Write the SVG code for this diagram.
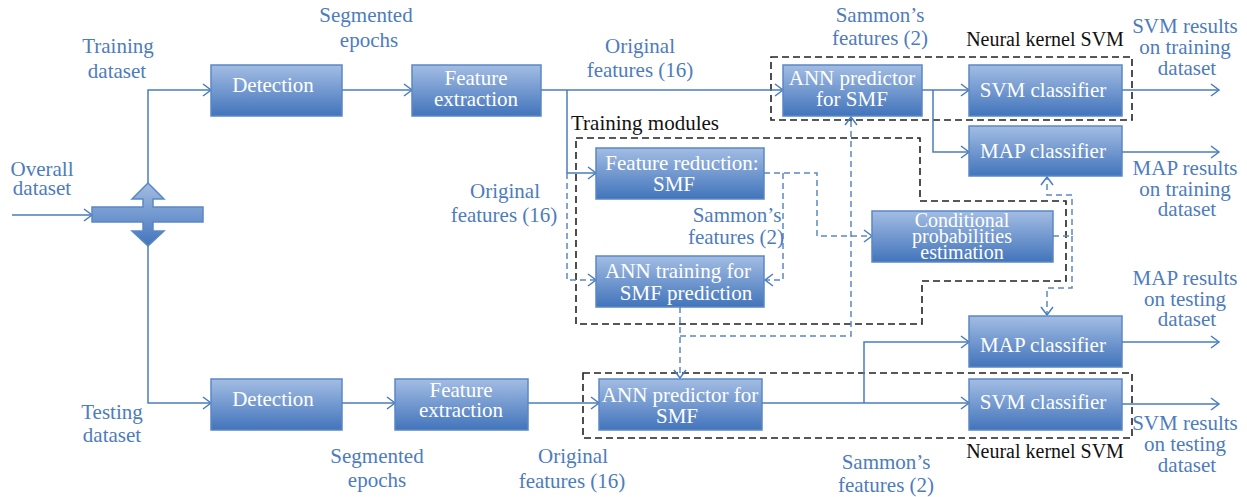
<svg xmlns="http://www.w3.org/2000/svg" width="1247" height="497" viewBox="0 0 1247 497">
  <defs>
    <linearGradient id="boxFill" x1="0" y1="0" x2="0" y2="1">
      <stop offset="0" stop-color="#a3bde3"/>
      <stop offset="1" stop-color="#4274bb"/>
    </linearGradient>
    <marker id="arrow" viewBox="-1 -7 11 14" refX="8" refY="0" markerWidth="11" markerHeight="14" markerUnits="userSpaceOnUse" orient="auto">
      <path d="M0,-6 L8,0 L0,6" fill="none" stroke="#4a7dbf" stroke-width="1.5"/>
    </marker>
    <style>
      text { font-family: 'Liberation Serif', Tinos, 'DejaVu Serif', serif; }
      .box { fill: url(#boxFill); stroke: #5a88c5; stroke-width: 1.5; }
      .nt { font-size: 21px; fill: #ffffff; text-anchor: middle; }
      .lbl { font-size: 21px; fill: #4d7cbc; text-anchor: middle; }
      .blk { font-size: 20px; fill: #111111; text-anchor: middle; }
      .wire { fill: none; stroke: #4a7dbf; stroke-width: 1.5; marker-end: url(#arrow); }
      .dwire { fill: none; stroke: #5a88c5; stroke-width: 1.5; stroke-dasharray: 6 4; marker-end: url(#arrow); }
      .group { fill: none; stroke: #222222; stroke-width: 1.6; stroke-dasharray: 7 4; }
    </style>
  </defs>

  <rect width="1247" height="497" fill="#ffffff"/>

  <!-- module boundaries -->
  <g id="boundaries">
    <rect class="group" x="771" y="57" width="361" height="63"/>
    <polygon class="group" points="576,138 920,138 920,201 1066,201 1066,281 922,281 922,324 576,324"/>
    <rect class="group" x="583" y="373" width="549" height="65"/>
    <text class="blk" x="1045" y="46">Neural kernel SVM</text>
    <text class="blk" x="645" y="130" style="font-size:21px">Training modules</text>
    <text class="blk" x="1045" y="458">Neural kernel SVM</text>
  </g>

  <!-- connectors -->
  <g id="connectors">
    <path class="wire" d="M12,215 H92"/>
    <path class="wire" d="M148,183 V90 H211"/>
    <path class="wire" d="M148,246 V403 H211"/>
    <path class="wire" d="M342,90 H412"/>
    <path class="wire" d="M541,90 H783"/>
    <path class="wire" d="M567,90 V173 H596"/>
    <path class="dwire" d="M567,173 V280 H596"/>
    <path class="wire" d="M922,90 H969"/>
    <path class="wire" d="M933,90 V152 H969"/>
    <path class="wire" d="M1122,90 H1219"/>
    <path class="wire" d="M1122,152 H1219"/>
    <path class="dwire" d="M764,173 H817 V236 H872"/>
    <path class="dwire" d="M783,173 V280 H765"/>
    <path class="dwire" d="M1053,236 H1072 V195 H1047 V177"/>
    <path class="dwire" d="M1072,236 V288 H1047 V315"/>
    <path class="dwire" d="M680,307 V378"/>
    <path class="dwire" d="M680,336 H851 V117"/>
    <path class="wire" d="M342,403 H395"/>
    <path class="wire" d="M528,403 H599"/>
    <path class="wire" d="M762,403 H969"/>
    <path class="wire" d="M864,403 V342 H969"/>
    <path class="wire" d="M1122,342 H1219"/>
    <path class="wire" d="M1122,404 H1219"/>
  </g>

  <!-- dataset splitter -->
  <g id="splitter">
    <path class="box" d="M148,183 L164,199 L153,199 L153,207 L203,207 L203,222 L153,222 L153,231 L164,231 L148,246 L132,231 L143,231 L143,222 L92,222 L92,207 L143,207 L143,199 L132,199 Z"/>
  </g>

  <!-- training path -->
  <g id="detection-train">
    <rect class="box" x="211" y="65" width="131" height="51"/>
    <text class="nt" x="273" y="92">Detection</text>
  </g>
  <g id="feature-extraction-train">
    <rect class="box" x="412" y="65" width="129" height="51"/>
    <text class="nt" x="476" y="85">Feature</text>
    <text class="nt" x="476" y="106">extraction</text>
  </g>
  <g id="ann-predictor-train">
    <rect class="box" x="783" y="65" width="139" height="51"/>
    <text class="nt" x="852" y="85">ANN predictor</text>
    <text class="nt" x="852" y="106">for SMF</text>
  </g>
  <g id="svm-train">
    <rect class="box" x="969" y="65" width="153" height="51"/>
    <text class="nt" x="1043" y="97">SVM classifier</text>
  </g>
  <g id="map-train">
    <rect class="box" x="969" y="126" width="153" height="50"/>
    <text class="nt" x="1043" y="158">MAP classifier</text>
  </g>
  <g id="feature-reduction">
    <rect class="box" x="596" y="148" width="168" height="51"/>
    <text class="nt" x="682" y="170">Feature reduction:</text>
    <text class="nt" x="674" y="191">SMF</text>
  </g>
  <g id="ann-training">
    <rect class="box" x="596" y="256" width="168" height="51"/>
    <text class="nt" x="678" y="278">ANN training for</text>
    <text class="nt" x="686" y="300">SMF prediction</text>
  </g>
  <g id="conditional-probabilities">
    <rect class="box" x="872" y="211" width="181" height="51"/>
    <text class="nt" x="962" y="227" style="font-size:20px">Conditional</text>
    <text class="nt" x="962" y="243" style="font-size:20px">probabilities</text>
    <text class="nt" x="962" y="259" style="font-size:20px">estimation</text>
  </g>

  <!-- testing path -->
  <g id="detection-test">
    <rect class="box" x="211" y="379" width="131" height="51"/>
    <text class="nt" x="273" y="406">Detection</text>
  </g>
  <g id="feature-extraction-test">
    <rect class="box" x="395" y="379" width="133" height="51"/>
    <text class="nt" x="461" y="397">Feature</text>
    <text class="nt" x="461" y="417">extraction</text>
  </g>
  <g id="ann-predictor-test">
    <rect class="box" x="599" y="379" width="163" height="51"/>
    <text class="nt" x="680" y="402">ANN predictor for</text>
    <text class="nt" x="677" y="423">SMF</text>
  </g>
  <g id="map-test">
    <rect class="box" x="969" y="316" width="153" height="51"/>
    <text class="nt" x="1043" y="352">MAP classifier</text>
  </g>
  <g id="svm-test">
    <rect class="box" x="969" y="379" width="153" height="51"/>
    <text class="nt" x="1043" y="409">SVM classifier</text>
  </g>

  <!-- data labels -->
  <g id="labels">
    <text class="lbl" x="42" y="176">Overall</text>
    <text class="lbl" x="42" y="195">dataset</text>
    <text class="lbl" x="118" y="53">Training</text>
    <text class="lbl" x="117" y="78">dataset</text>
    <text class="lbl" x="366" y="22">Segmented</text>
    <text class="lbl" x="369" y="47">epochs</text>
    <text class="lbl" x="640" y="53">Original</text>
    <text class="lbl" x="640" y="77">features (16)</text>
    <text class="lbl" x="880" y="22">Sammon’s</text>
    <text class="lbl" x="880" y="45">features (2)</text>
    <text class="lbl" x="1185" y="33">SVM results</text>
    <text class="lbl" x="1185" y="54">on training</text>
    <text class="lbl" x="1187" y="75">dataset</text>
    <text class="lbl" x="1185" y="175">MAP results</text>
    <text class="lbl" x="1185" y="196">on training</text>
    <text class="lbl" x="1187" y="216">dataset</text>
    <text class="lbl" x="505" y="198">Original</text>
    <text class="lbl" x="504" y="222">features (16)</text>
    <text class="lbl" x="737" y="222">Sammon’s</text>
    <text class="lbl" x="736" y="244">features (2)</text>
    <text class="lbl" x="1185" y="285">MAP results</text>
    <text class="lbl" x="1185" y="306">on testing</text>
    <text class="lbl" x="1187" y="326">dataset</text>
    <text class="lbl" x="112" y="419">Testing</text>
    <text class="lbl" x="112" y="442">dataset</text>
    <text class="lbl" x="377" y="463">Segmented</text>
    <text class="lbl" x="377" y="487">epochs</text>
    <text class="lbl" x="573" y="463">Original</text>
    <text class="lbl" x="572" y="488">features (16)</text>
    <text class="lbl" x="886" y="469">Sammon’s</text>
    <text class="lbl" x="886" y="492">features (2)</text>
    <text class="lbl" x="1185" y="430">SVM results</text>
    <text class="lbl" x="1185" y="451">on testing</text>
    <text class="lbl" x="1187" y="472">dataset</text>
  </g>
</svg>
